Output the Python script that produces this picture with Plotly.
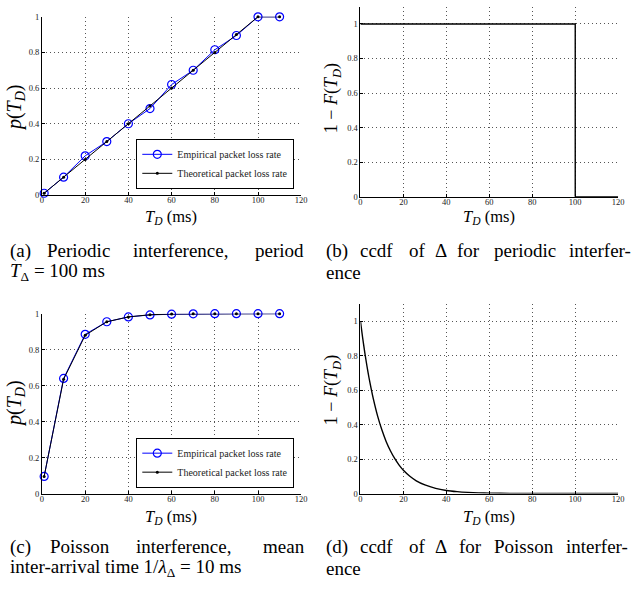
import plotly.graph_objects as go

W, H = 639, 589

# ---------------- data ----------------
td_points = [1, 10, 20, 30, 40, 50, 60, 70, 80, 90, 100, 110]

periodic_empirical = [0.01, 0.10, 0.22, 0.30, 0.40, 0.485, 0.62, 0.70, 0.815, 0.895, 1.0, 1.0]
periodic_theoretical = [0.01, 0.10, 0.20, 0.30, 0.40, 0.50, 0.60, 0.70, 0.80, 0.90, 1.0, 1.0]

poisson_empirical = [0.095, 0.64, 0.885, 0.955, 0.982, 0.993, 0.997, 0.999, 1.0, 1.0, 1.0, 1.0]
poisson_theoretical = [0.095, 0.635, 0.88, 0.955, 0.982, 0.994, 0.998, 0.999, 1.0, 1.0, 1.0, 1.0]

periodic_ccdf_x = [0, 100, 100, 120]
periodic_ccdf_y = [1, 1, 0, 0]

poisson_ccdf_x = [0, 1, 2, 3, 4, 5, 6, 8, 10, 12, 14, 16, 18, 20, 23, 26, 30, 35,
                  40, 45, 50, 55, 60, 70, 80, 90, 100, 110, 120]
poisson_ccdf_y = [1.0, 0.905, 0.819, 0.741, 0.670, 0.607, 0.549, 0.449, 0.368, 0.301,
                  0.247, 0.202, 0.165, 0.135, 0.100, 0.074, 0.050, 0.030, 0.018, 0.011,
                  0.0067, 0.004, 0.0025, 0.0009, 0.0003, 0.0001, 0.0, 0.0, 0.0]

x_ticks = [0, 20, 40, 60, 80, 100, 120]
y_ticks = [0, 0.2, 0.4, 0.6, 0.8, 1]
y_tick_text = ["0", "0.2", "0.4", "0.6", "0.8", "1"]

# ---------------- layout helpers ----------------
SERIF = "Liberation Serif, Times New Roman, serif"
GRID_DASH = "1px,3px"

def px_x(p):
    return p / W

def px_y(p):
    return 1 - p / H

fig = go.Figure()

emp_line = dict(color="#0000ff", width=1)
emp_marker = dict(symbol="circle-open", size=8, color="#0000ff", line=dict(width=1.2))
th_line = dict(color="black", width=1)
th_marker = dict(symbol="circle", size=3, color="black")

# (a)
fig.add_trace(go.Scatter(x=td_points, y=periodic_empirical, mode="lines+markers",
                         name="Empirical packet loss rate", line=emp_line, marker=emp_marker,
                         xaxis="x", yaxis="y", cliponaxis=False, legend="legend"))
fig.add_trace(go.Scatter(x=td_points, y=periodic_theoretical, mode="lines+markers",
                         name="Theoretical packet loss rate", line=th_line, marker=th_marker,
                         xaxis="x", yaxis="y", cliponaxis=False, legend="legend"))
# (b)
fig.add_trace(go.Scatter(x=periodic_ccdf_x, y=periodic_ccdf_y, mode="lines",
                         line=dict(color="black", width=1.4), showlegend=False,
                         xaxis="x2", yaxis="y2", cliponaxis=False))
# (c)
fig.add_trace(go.Scatter(x=td_points, y=poisson_empirical, mode="lines+markers",
                         name="Empirical packet loss rate", line=emp_line, marker=emp_marker,
                         xaxis="x3", yaxis="y3", cliponaxis=False, legend="legend2"))
fig.add_trace(go.Scatter(x=td_points, y=poisson_theoretical, mode="lines+markers",
                         name="Theoretical packet loss rate", line=th_line, marker=th_marker,
                         xaxis="x3", yaxis="y3", cliponaxis=False, legend="legend2"))
# (d)
fig.add_trace(go.Scatter(x=poisson_ccdf_x, y=poisson_ccdf_y, mode="lines",
                         line=dict(color="black", width=1.4, shape="spline", smoothing=0.6),
                         showlegend=False, xaxis="x4", yaxis="y4", cliponaxis=False))

TICKFONT = dict(family=SERIF, size=8.5, color="#222")

def xaxis(domain, anchor):
    return dict(domain=domain, anchor=anchor, range=[0, 120], tickvals=x_ticks,
                showline=True, linecolor="black", linewidth=1, ticks="inside", ticklen=3,
                tickcolor="black", showgrid=True, gridcolor="#555", griddash=GRID_DASH,
                gridwidth=1, zeroline=False, tickfont=TICKFONT, ticklabelstandoff=-3,
                fixedrange=True)

def yaxis(domain, anchor, ymax):
    return dict(domain=domain, anchor=anchor, range=[0, ymax], tickvals=y_ticks,
                ticktext=y_tick_text,
                showline=True, linecolor="black", linewidth=1, ticks="inside", ticklen=3,
                tickcolor="black", showgrid=True, gridcolor="#555", griddash=GRID_DASH,
                gridwidth=1, zeroline=False, tickfont=TICKFONT, fixedrange=True)

left_x = [px_x(40.5), px_x(303)]
right_x = [px_x(363), px_x(624)]

LEGFONT = dict(family=SERIF, size=10, color="#222")

fig.update_layout(
    width=W, height=H, margin=dict(l=0, r=0, t=0, b=0),
    paper_bgcolor="white", plot_bgcolor="white",
    xaxis=xaxis(left_x, "y"),
    yaxis=yaxis([px_y(193.3), px_y(12)], "x", 1),
    xaxis2=xaxis(right_x, "y2"),
    yaxis2=yaxis([px_y(195), px_y(1.7)], "x2", 1.1),
    xaxis3=xaxis(left_x, "y3"),
    yaxis3=yaxis([px_y(497), px_y(314)], "x3", 1),
    xaxis4=xaxis(right_x, "y4"),
    yaxis4=yaxis([px_y(497), px_y(304)], "x4", 1.1),
    legend=dict(x=px_x(296), y=px_y(187), xanchor="right", yanchor="bottom",
                bgcolor="white", bordercolor="black", borderwidth=1,
                font=LEGFONT, tracegroupgap=0, itemwidth=30),
    legend2=dict(x=px_x(296), y=px_y(491), xanchor="right", yanchor="bottom",
                 bgcolor="white", bordercolor="black", borderwidth=1,
                 font=LEGFONT, tracegroupgap=0, itemwidth=30),
)

annotations = []

def ann(text, x, y, size, xanchor="left", angle=0, pad=1):
    annotations.append(dict(text=text, x=px_x(x), y=px_y(y), xref="paper", yref="paper",
                            xanchor=xanchor, yanchor="middle", showarrow=False,
                            textangle=angle, borderpad=pad,
                            font=dict(family=SERIF, size=size, color="black")))

xtitle = "<i>T</i><sub><i>D</i></sub> (ms)"
ptitle = "<i>p</i>(<i>T</i><sub><i>D</i></sub>)"
ftitle = "1 − <i>F</i>(<i>T</i><sub><i>D</i></sub>)"

ann(xtitle, 171.5, 216, 16.5, "center", pad=0)
ann(xtitle, 493.5, 216, 16.5, "center", pad=0)
ann(xtitle, 171.5, 521, 16.5, "center", pad=0)
ann(xtitle, 493.5, 521, 16.5, "center", pad=0)

ann(ptitle, 13, 104, 20, "center", -90)
ann(ftitle, 335, 95, 18, "center", -90)
ann(ptitle, 13, 405, 20, "center", -90)
ann(ftitle, 335, 392, 18, "center", -90)

# captions (justified first lines rendered word by word)
CAP = 19
NB = "\u00a0"
for word, x in [("(a)", 7), ("Periodic", 45), ("interference,", 132), ("period", 255)]:
    ann(word, x, 250, CAP, pad=0)
ann("<i>T</i><sub>Δ</sub>" + NB + "=" + NB + "100" + NB + "ms", 7, 272, CAP, pad=0)

for word, x in [("(b)", 327), ("ccdf", 362), ("of", 411), ("Δ", 437), ("for", 460),
                ("periodic", 497), ("interfer-", 573)]:
    ann(word, x, 250, CAP, pad=0)
ann("ence", 327, 272, CAP, pad=0)

for word, x in [("(c)", 7), ("Poisson", 48), ("interference,", 135), ("mean", 263)]:
    ann(word, x, 551, CAP, pad=0)
ann("inter-arrival time 1/<i>λ</i><sub>Δ</sub>" + NB + "=" + NB + "10" + NB + "ms",
    7, 573, CAP, pad=0)

for word, x in [("(d)", 327), ("ccdf", 362), ("of", 411), ("Δ", 437), ("for", 462),
                ("Poisson", 497), ("interfer-", 570)]:
    ann(word, x, 551, CAP, pad=0)
ann("ence", 327, 573, CAP, pad=0)

fig.update_layout(annotations=annotations)

fig.write_html("out.html", config={"displayModeBar": False})
